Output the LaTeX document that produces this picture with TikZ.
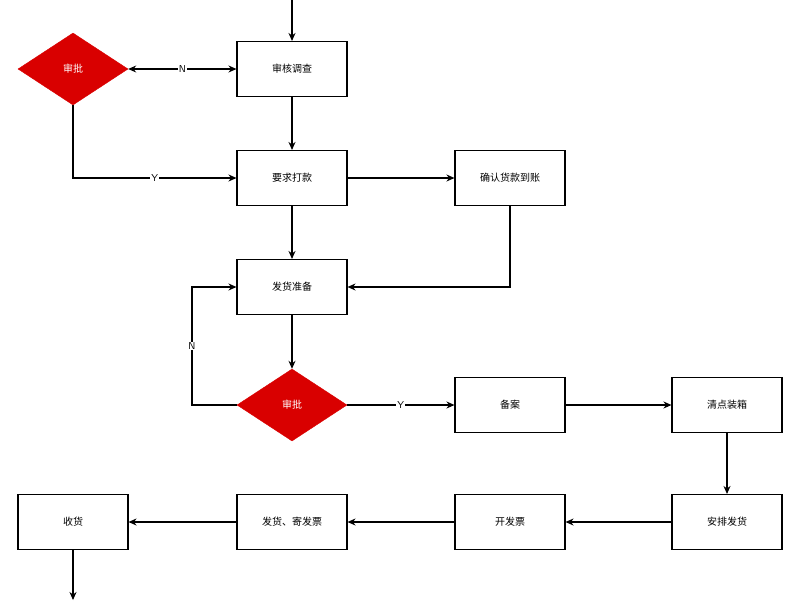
\documentclass[tikz,border=0pt]{standalone}
\usepackage{fontspec}
\newfontfamily\cjk{Noto Sans CJK SC}
\usetikzlibrary{shapes.geometric,arrows.meta}
\begin{document}
\begin{tikzpicture}[x=1pt,y=-1pt,font=\cjk\fontsize{10}{12}\selectfont,
 box/.style={draw,line width=1.1pt,minimum width=110pt,minimum height=55pt,inner sep=0pt},
 dia/.style={diamond,fill=red!85!black,draw=red!85!black,text=white,minimum width=110pt,minimum height=72pt,inner sep=0pt},
 arr/.style={draw,line width=1.1pt,-{Stealth[length=8pt,width=7pt]}},
 lab/.style={fill=white,inner sep=1pt,font=\sffamily\fontsize{10}{12}\selectfont}]
\useasboundingbox (0,0) rectangle (800,600);
\node[box] (a) at (292,69) {审核调查};
\node[dia,shape aspect=1.5] (d1) at (73,69) {审批};
\node[box] (b) at (292,178) {要求打款};
\node[box] (c) at (510,178) {确认货款到账};
\node[box] (e) at (292,287) {发货准备};
\node[dia,shape aspect=1.5] (d2) at (292,405) {审批};
\node[box] (f) at (510,405) {备案};
\node[box] (g) at (727,405) {清点装箱};
\node[box] (h) at (727,522) {安排发货};
\node[box] (i) at (510,522) {开发票};
\node[box] (j) at (292,522) {发货、寄发票};
\node[box] (k) at (73,522) {收货};
\coordinate (top) at (292,0);
\coordinate (bot) at (73,600);
\draw[arr] (top) -- (a);
\draw[arr,{Stealth[length=8pt,width=7pt]}-{Stealth[length=8pt,width=7pt]}] (d1) -- node[lab]{N} (a);
\draw[arr] (d1.south) |- node[lab,pos=0.75]{Y} (b);
\draw[arr] (a) -- (b);
\draw[arr] (b) -- (c);
\draw[arr] (b) -- (e);
\draw[arr] (c.south) |- (e);
\draw[arr] (e) -- (d2);
\draw[arr] (d2.west) -- (192,405) |- node[lab,pos=0.25]{N} (e.west);
\draw[arr] (d2) -- node[lab]{Y} (f);
\draw[arr] (f) -- (g);
\draw[arr] (g) -- (h);
\draw[arr] (h) -- (i);
\draw[arr] (i) -- (j);
\draw[arr] (j) -- (k);
\draw[arr] (k) -- (bot);
\end{tikzpicture}
\end{document}
